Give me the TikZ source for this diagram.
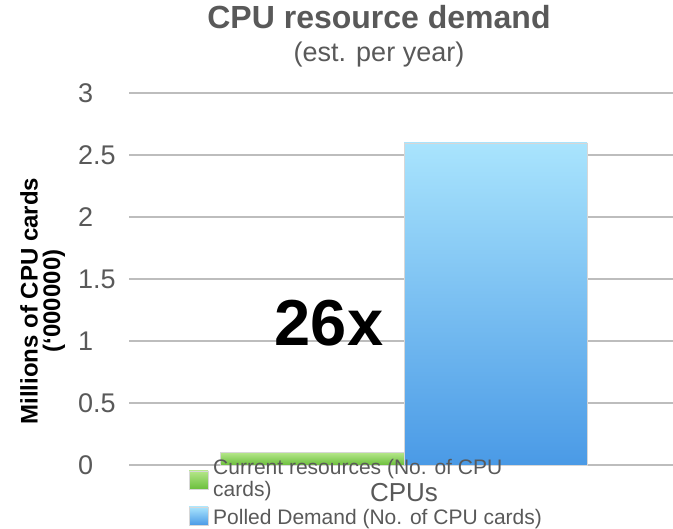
\documentclass[tikz,border=0pt]{standalone}
\usepackage{fontspec}
\setmainfont{Liberation Sans}
\usepackage{tikz}
\usetikzlibrary{positioning}

\definecolor{txtgray}{HTML}{595959}
\definecolor{gridgray}{HTML}{BDBDBD}
\definecolor{bluetop}{HTML}{A9E4FD}
\definecolor{bluebot}{HTML}{4A9AE6}
\definecolor{greentop}{HTML}{B4E689}
\definecolor{greenbot}{HTML}{6BBF3C}

\tikzset{
    ticklabel/.style={anchor=west, text=txtgray, inner sep=0pt, font=\fontsize{27}{30}\selectfont},
    legendtext/.style={anchor=base west, text=txtgray, inner sep=0pt, font=\fontsize{21}{22}\selectfont},
    gridline/.style={draw=gridgray, line width=2.5pt},
    bluebar/.style={top color=bluetop, bottom color=bluebot, draw=gridgray!60, line width=0.6pt},
    greenbar/.style={top color=greentop, bottom color=greenbot, draw=gridgray!60, line width=0.6pt}
}

\begin{document}
\begin{tikzpicture}[x=1pt, y=-1pt]
    \useasboundingbox (0,0) rectangle (673,529);

    % titles
    \node[anchor=base, text=txtgray, inner sep=0pt, font=\bfseries\fontsize{32}{34}\selectfont] (title) at (379,29) {CPU resource demand};
    \node[anchor=base, text=txtgray, inner sep=0pt, font=\fontsize{27}{30}\selectfont] (subtitle) at (379,62) {(est. per year)};

    % grid and ticks
    \foreach \v/\name [count=\i from 0] in {0/t0, 0.5/t05, 1/t1, 1.5/t15, 2/t2, 2.5/t25, 3/t3} {
        \coordinate (g\i) at (129,465-\i*62);
        \coordinate (h\i) at (673,465-\i*62);
        \draw[gridline] (g\i) -- (h\i);
        \node[ticklabel] (\name) at (78,465-\i*62) {\v};
    }

    % bars
    \shade[greenbar] (220,452.6) rectangle (404,465);
    \shade[bluebar] (404,143) rectangle (587,465);

    % axis title
    \node[rotate=90, font=\bfseries\fontsize{24}{26}\selectfont] (ylab) at (29,301) {Millions of CPU cards};
    \node[rotate=90, font=\bfseries\fontsize{24}{26}\selectfont] (yunit) at (54,301) {(`000000)};

    \node[font=\bfseries\fontsize{65}{70}\selectfont] (factor) at (329,323) {26x};

    \node[text=txtgray, font=\fontsize{26}{28}\selectfont] (cat) at (404,493) {CPUs};

    % legend
    \shade[greenbar] (189,471) rectangle (208,489);
    \node[legendtext] (legcur) at (213,475) {Current resources (No. of CPU};
    \node[legendtext] (legcards) at (213,497) {cards)};
    \shade[bluebar] (189,507) rectangle (208,525);
    \node[legendtext] (legpoll) at (213,525) {Polled Demand (No. of CPU cards)};
\end{tikzpicture}
\end{document}
